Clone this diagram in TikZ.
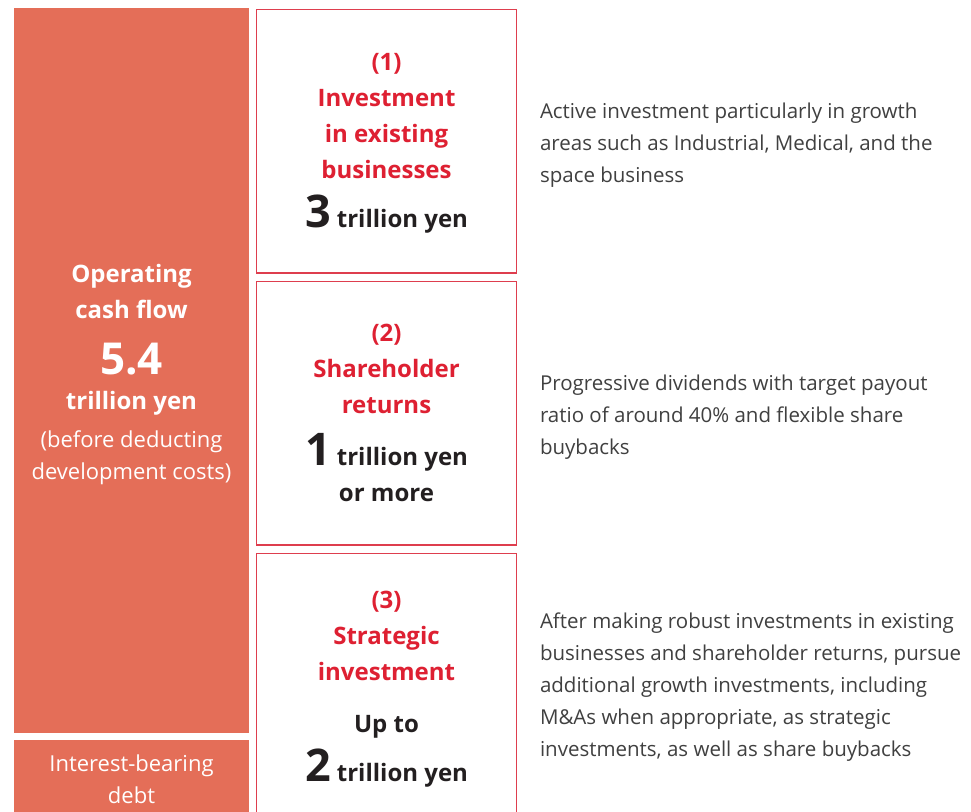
\documentclass[tikz,border=0pt]{standalone}
\usepackage{fontspec}
\setmainfont{Open Sans}
\definecolor{ocf}{RGB}{228,110,88}
\definecolor{boxred}{RGB}{222,62,78}
\definecolor{redtxt}{RGB}{222,32,50}
\definecolor{darktxt}{RGB}{35,31,32}
\definecolor{bodytxt}{RGB}{64,64,64}
\begin{document}
\begin{tikzpicture}[x=1pt,y=-1pt,
  lbl/.style={anchor=base,inner sep=0pt,outer sep=0pt},
  ttl/.style={lbl,text=redtxt,font=\bfseries\fontsize{24}{28}\selectfont},
  amt/.style={lbl,text=darktxt,font=\bfseries\fontsize{24}{28}\selectfont},
  body/.style={anchor=base west,inner sep=0pt,outer sep=0pt,text=bodytxt,font=\fontsize{20.5}{24}\selectfont},
  wb/.style={lbl,text=white,font=\bfseries\fontsize{24}{28}\selectfont},
  wr/.style={lbl,text=white,font=\fontsize{22}{26}\selectfont},
  panel/.style={draw=boxred,line width=1.3pt,fill=white}]
\clip (0,0) rectangle (971,811);
\fill[white] (0,0) rectangle (971,811);
% left bars
\fill[ocf] (14,8) rectangle (249,733);
\fill[ocf] (14,740) rectangle (249,830);
% boxes
\draw[panel] (256.5,9.5) rectangle (516.5,273);
\draw[panel] (256.5,281.5) rectangle (516.5,545);
\draw[panel] (256.5,553.5) rectangle (516.5,830);
% left text
\node[wb] (ocf1) at (131.5,282) {Operating};
\node[wb] (ocf2) at (131.5,318) {cash flow};
\node[wb,font=\bfseries\fontsize{44}{48}\selectfont] (ocf3) at (131.5,374) {5.4};
\node[wb] (ocf4) at (131.5,409) {trillion yen};
\node[wr] (ocf5) at (131.5,447) {(before deducting};
\node[wr] (ocf6) at (131.5,479) {development costs)};
\node[wr] (debt1) at (131.5,771) {Interest-bearing};
\node[wr] (debt2) at (131.5,803) {debt};
% box 1
\node[ttl] (b1a) at (386.5,70) {(1)};
\node[ttl] (b1b) at (386.5,106) {Investment};
\node[ttl] (b1c) at (386.5,142) {in existing};
\node[ttl] (b1d) at (386.5,178) {businesses};
\node[amt] (b1e) at (386.5,227) {{\fontsize{45}{48}\selectfont 3} trillion yen};
% box 2
\node[ttl] (b2a) at (386.5,341) {(2)};
\node[ttl] (b2b) at (386.5,377) {Shareholder};
\node[ttl] (b2c) at (386.5,413) {returns};
\node[amt] (b2d) at (386.5,465) {{\fontsize{45}{48}\selectfont 1} trillion yen};
\node[amt] (b2e) at (386.5,501) {or more};
% box 3
\node[ttl] (b3a) at (386.5,608) {(3)};
\node[ttl] (b3b) at (386.5,644) {Strategic};
\node[ttl] (b3c) at (386.5,680) {investment};
\node[amt] (b3d) at (386.5,732) {Up to};
\node[amt] (b3e) at (386.5,781) {{\fontsize{45}{48}\selectfont 2} trillion yen};
% right texts
\node[body] (t1a) at (540,118) {Active investment particularly in growth};
\node[body] (t1b) at (540,150) {areas such as Industrial, Medical, and the};
\node[body] (t1c) at (540,182) {space business};
\node[body] (t2a) at (540,390) {Progressive dividends with target payout};
\node[body] (t2b) at (540,422) {ratio of around 40\% and flexible share};
\node[body] (t2c) at (540,454) {buybacks};
\node[body] (t3a) at (540,628) {After making robust investments in existing};
\node[body] (t3b) at (540,660) {businesses and shareholder returns, pursue};
\node[body] (t3c) at (540,692) {additional growth investments, including};
\node[body] (t3d) at (540,724) {M\&As when appropriate, as strategic};
\node[body] (t3e) at (540,756) {investments, as well as share buybacks};
\end{tikzpicture}
\end{document}
